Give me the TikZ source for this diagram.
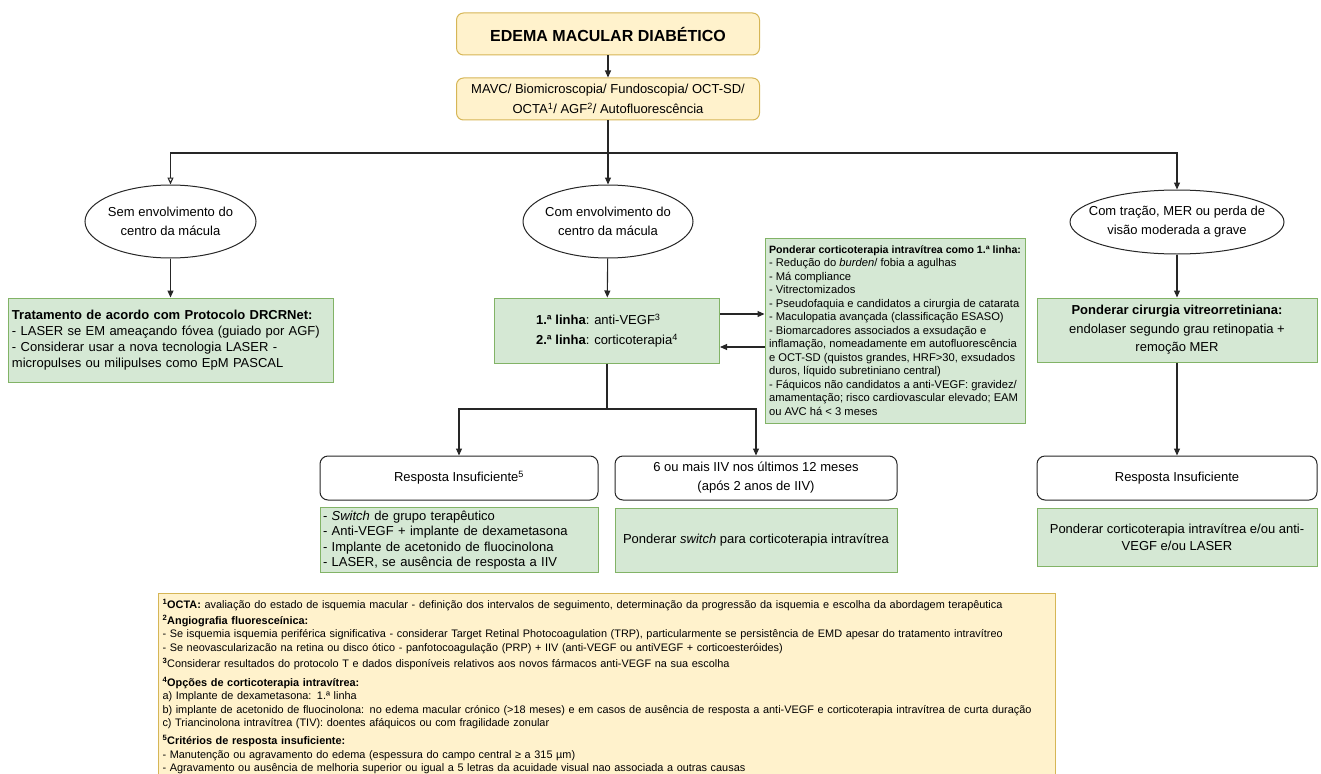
\documentclass[tikz,border=0pt]{standalone}
\usepackage{fontspec}
\setmainfont{Liberation Sans}
\usetikzlibrary{shapes.geometric,arrows.meta}
\definecolor{ylwfill}{HTML}{FFF2CC}
\definecolor{ylwline}{HTML}{D6B656}
\definecolor{grnfill}{HTML}{D5E8D4}
\definecolor{grnline}{HTML}{82B366}

\begin{document}
\begin{tikzpicture}[x=1pt, y=-1pt, line width=1.1pt, draw=black!85,
  >={Triangle[length=7pt,width=6pt]}]

\tikzstyle{every node} = [font=\fontsize{13}{16}\selectfont, inner sep=3pt, line width=1pt]
\tikzstyle{hdr} = [rectangle, rounded corners=7pt, draw=ylwline, fill=ylwfill, align=center, minimum width=303pt, minimum height=42pt]
\tikzstyle{ell} = [ellipse, draw=black!85, fill=white, align=center, inner xsep=-20pt, inner ysep=0pt, font=\fontsize{13}{19}\selectfont]
\tikzstyle{grn} = [rectangle, draw=grnline, fill=grnfill]
\tikzstyle{wht} = [rectangle, rounded corners=8pt, draw=black!85, fill=white, align=center, minimum width=280pt, minimum height=44pt, font=\fontsize{13}{19}\selectfont]
\tikzstyle{note} = [rectangle, draw=ylwline, fill=ylwfill, align=left, text width=889pt, inner xsep=4pt, inner ysep=6pt, font=\fontsize{10.9}{13.5}\selectfont]

\useasboundingbox (0,0) rectangle (1321,773);
\clip (0,0) rectangle (1321,773);

\node[hdr, font=\bfseries\fontsize{16}{19}\selectfont] (t) at (608,34) {EDEMA MACULAR DIABÉTICO};
\node[hdr, font=\fontsize{13}{20}\selectfont] (m) at (608,99) {MAVC/ Biomicroscopia/ Fundoscopia/ OCT-SD/\\OCTA\textsuperscript{1}/ AGF\textsuperscript{2}/ Autofluorescência};

\coordinate (b) at (608,153);

\node[ell, minimum width=171pt, minimum height=73pt] (e1) at (170.5,221.5) {Sem envolvimento do\\centro da mácula};
\node[ell, minimum width=170pt, minimum height=73pt] (e2) at (608,221.5) {Com envolvimento do\\centro da mácula};
\node[ell, minimum width=214pt, minimum height=64pt] (e3) at (1177,222) {Com tração, MER ou perda de\\visão moderada a grave};

\node[grn, align=left, text width=317pt, inner xsep=4pt, minimum height=84pt] (g1) at (170.5,340) {\textbf{Tratamento de acordo com Protocolo DRCRNet:}\\- LASER se EM ameaçando fóvea (guiado por AGF)\\- Considerar usar a nova tecnologia LASER -\\micropulses ou milipulses como EpM PASCAL};
\node[grn, align=left, minimum width=225pt, minimum height=65pt, font=\fontsize{13}{20}\selectfont] (g2) at (607,330.5) {\textbf{1.ª linha}: anti-VEGF\textsuperscript{3}\\\textbf{2.ª linha}: corticoterapia\textsuperscript{4}};
\node[grn, align=left, minimum width=260pt, minimum height=185pt, inner xsep=2pt, font=\fontsize{11.2}{13.5}\selectfont] (s) at (895,330.5) {{\bfseries\fontsize{10.6}{13.5}\selectfont Ponderar corticoterapia intravítrea como 1.ª linha:}\\- Redução do \textit{burden}/ fobia a agulhas\\- Má compliance\\- Vitrectomizados\\- Pseudofaquia e candidatos a cirurgia de catarata\\- Maculopatia avançada (classificação ESASO)\\- Biomarcadores associados a exsudação e\\inflamação, nomeadamente em autofluorescência\\e OCT-SD (quistos grandes, HRF>30, exsudados\\duros, líquido subretiniano central)\\- Fáquicos não candidatos a anti-VEGF: gravidez/\\amamentação; risco cardiovascular elevado; EAM\\ou AVC há < 3 meses};
\node[grn, align=center, minimum width=280pt, minimum height=64pt, font=\fontsize{13}{18.5}\selectfont] (g3) at (1177,330) {\textbf{Ponderar cirurgia vitreorretiniana:}\\endolaser segundo grau retinopatia +\\remoção MER};

\coordinate (ya) at (0,314);
\coordinate (yb) at (0,347);
\coordinate (c) at (607,409);

\node[wht, minimum width=278pt] (w1) at (459,478) {Resposta Insuficiente\textsuperscript{5}};
\node[wht, minimum width=282pt] (w2) at (756,478) {6 ou mais IIV nos últimos 12 meses\\(após 2 anos de IIV)};
\node[wht] (w3) at (1177,478) {Resposta Insuficiente};

\node[grn, align=left, text width=272pt, minimum height=64pt, font=\fontsize{13}{15.5}\selectfont] (g4) at (459,540) {- \textit{Switch} de grupo terapêutico\\- Anti-VEGF + implante de dexametasona\\- Implante de acetonido de fluocinolona\\- LASER, se ausência de resposta a IIV};
\node[grn, align=center, minimum width=282pt, minimum height=64pt] (g5) at (756,540) {Ponderar \textit{switch} para corticoterapia intravítrea};
\node[grn, align=center, minimum width=280pt, minimum height=58pt, font=\fontsize{13}{17}\selectfont] (g6) at (1177,537) {Ponderar corticoterapia intravítrea e/ou anti-\\VEGF e/ou LASER};

\node[note, anchor=north west] (f) at (158,593) {\textsuperscript{\textbf{1}}\textbf{OCTA:} avaliação do estado de isquemia macular - definição dos intervalos de seguimento, determinação da progressão da isquemia e escolha da abordagem terapêutica\\[2pt]
\textsuperscript{\textbf{2}}\textbf{Angiografia fluoresceínica:}\\
- Se isquemia isquemia periférica significativa - considerar Target Retinal Photocoagulation (TRP), particularmente se persistência de EMD apesar do tratamento intravítreo\\
- Se neovascularizacão na retina ou disco ótico - panfotocoagulação (PRP) + IIV (anti-VEGF ou antiVEGF + corticoesteróides)\\[2.5pt]
\textsuperscript{\textbf{3}}Considerar resultados do protocolo T e dados disponíveis relativos aos novos fármacos anti-VEGF na sua escolha\\[5.5pt]
\textsuperscript{\textbf{4}}\textbf{Opções de corticoterapia intravítrea:}\\
a) Implante de dexametasona: 1.ª linha\\
b) implante de acetonido de fluocinolona: no edema macular crónico (>18 meses) e em casos de ausência de resposta a anti-VEGF e corticoterapia intravítrea de curta duração\\
c) Triancinolona intravítrea (TIV): doentes afáquicos ou com fragilidade zonular\\[4.5pt]
\textsuperscript{\textbf{5}}\textbf{Critérios de resposta insuficiente:}\\
- Manutenção ou agravamento do edema (espessura do campo central ≥ a 315 µm)\\
- Agravamento ou ausência de melhoria superior ou igual a 5 letras da acuidade visual nao associada a outras causas};

\draw[->] (t) -- (m);
\draw[-] (m) -- (b);
\draw[-{Triangle[open,length=7pt,width=6pt]}] (b) -| (e1);
\draw[->] (b) -- (e2);
\draw[->] (b) -| (e3);

\draw[->] (e1) -- (g1);
\draw[->] (e2) -- (g2);
\draw[->] (e3) -- (g3);

\draw[->] (g2.east |- ya) -- (s.west |- ya);
\draw[->] (s.west |- yb) -- (g2.east |- yb);

\draw[-] (g2) -- (c);
\draw[->] (c) -| (w1);
\draw[->] (c) -| (w2);
\draw[->] (g3) -- (w3);

\end{tikzpicture}
\end{document}
